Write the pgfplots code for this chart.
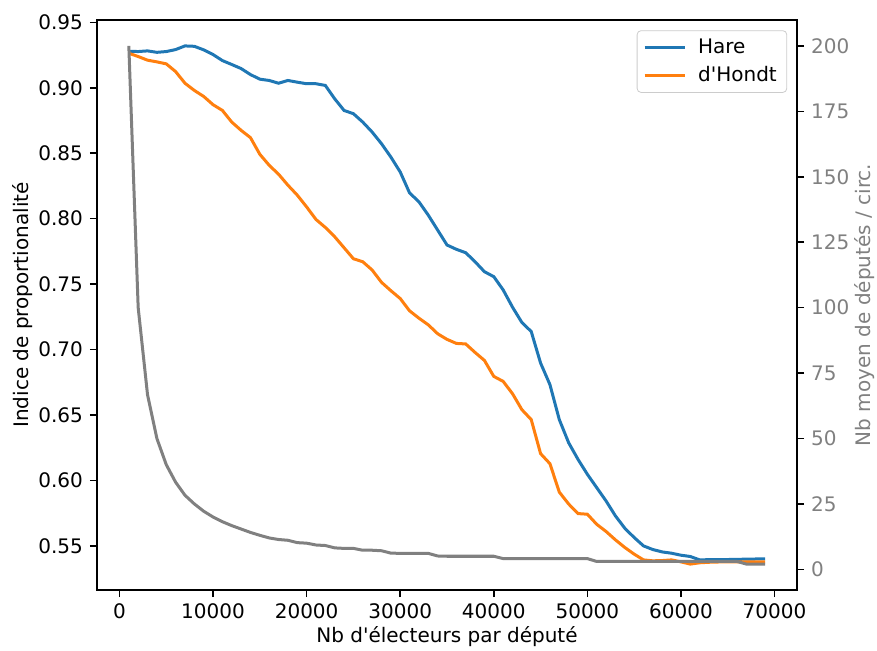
\documentclass[border=0pt]{standalone}
\usepackage{fontspec}
\setmainfont{DejaVu Sans}
\usepackage{pgfplots}
\usepackage{pgfplotstable}
\pgfplotsset{compat=1.18}
\definecolor{mplblue}{HTML}{1F77B4}
\definecolor{mplorange}{HTML}{FF7F0E}
\definecolor{mplgray}{HTML}{808080}

% x = electeurs par depute, hare / hondt = indice, circ = nb moyen de deputes
\pgfplotstableread{
x     hare   hondt  circ
1000  0.9279 0.9264 200
2000  0.9277 0.9239 100
3000  0.9282 0.9211 66.7
4000  0.9271 0.9198 50
5000  0.9277 0.9183 40
6000  0.9292 0.9124 33.3
7000  0.9320 0.9035 28.3
8000  0.9317 0.8980 25
9000  0.9290 0.8934 22.2
10000 0.9254 0.8871 20
11000 0.9208 0.8827 18.2
12000 0.9178 0.8738 16.7
13000 0.9147 0.8675 15.4
14000 0.9101 0.8619 14.1
15000 0.9066 0.8492 13
16000 0.9056 0.8408 12
17000 0.9035 0.8340 11.4
18000 0.9056 0.8256 11.1
19000 0.9043 0.8180 10.2
20000 0.9031 0.8090 10
21000 0.9031 0.7994 9.3
22000 0.9018 0.7933 9.1
23000 0.8916 0.7862 8.2
24000 0.8827 0.7778 8
25000 0.8802 0.7694 8
26000 0.8738 0.7671 7.3
27000 0.8662 0.7608 7.3
28000 0.8573 0.7514 7.1
29000 0.8471 0.7450 6.2
30000 0.8357 0.7390 6.1
31000 0.8197 0.7296 6.1
32000 0.8129 0.7240 6.1
33000 0.8027 0.7189 6.1
34000 0.7913 0.7121 5.1
35000 0.7799 0.7078 5
36000 0.7766 0.7047 5
37000 0.7740 0.7043 5
38000 0.7671 0.6978 5
39000 0.7595 0.6917 5
40000 0.7557 0.6795 5
41000 0.7456 0.6757 4.1
42000 0.7324 0.6663 4.1
43000 0.7207 0.6541 4.1
44000 0.7138 0.6465 4.1
45000 0.6897 0.6205 4.1
46000 0.6732 0.6128 4.1
47000 0.6465 0.5911 4.1
48000 0.6288 0.5820 4.1
49000 0.6161 0.5747 4.1
50000 0.6047 0.5742 4.1
51000 0.5945 0.5665 3
52000 0.5843 0.5610 3
53000 0.5729 0.5546 3
54000 0.5635 0.5488 3
55000 0.5564 0.5437 3
56000 0.5500 0.5393 3
57000 0.5472 0.5386 3
58000 0.5454 0.5388 3
59000 0.5444 0.5393 3
60000 0.5429 0.5378 3
61000 0.5419 0.5361 3
62000 0.5393 0.5371 3
63000 0.5395 0.5375 3
64000 0.5396 0.5377 3
65000 0.5396 0.5378 3
66000 0.5397 0.5378 3
67000 0.5399 0.5378 2
68000 0.5400 0.5378 2
69000 0.5400 0.5378 2
}\data

\begin{document}
\begin{tikzpicture}
\pgfplotsset{
  base/.style={
    scale only axis, width=350pt, height=285pt,
    at={(0,0)}, anchor=south west,
    xmin=-2400, xmax=72400,
    axis line style={line width=0.8pt},
    tick style={line width=0.8pt, black},
    major tick length=3.5pt,
    tick align=outside,
    /pgf/number format/assume math mode=true,
    tick label style={font=\normalsize},
  }
}
\begin{axis}[base,
  ymin=0.5163, ymax=0.9518,
  xtick={0,10000,20000,30000,40000,50000,60000,70000},
  scaled x ticks=false, scaled y ticks=false,
  xticklabel style={/pgf/number format/1000 sep={}},
  ytick={0.55,0.6,0.65,0.7,0.75,0.8,0.85,0.9,0.95},
  yticklabel style={/pgf/number format/.cd, fixed, fixed zerofill, precision=2},
  xtick pos=bottom, ytick pos=left,
  xlabel={Nb d\textquotesingle électeurs par député},
  ylabel={Indice de proportionalité},
  every axis x label/.style={at={(axis description cs:0.5,-0.0825)}, anchor=center},
  every axis y label/.style={at={(axis description cs:-0.107,0.5)}, rotate=90, anchor=center},
  legend cell align=left,
  legend image code/.code={\draw[#1] (0pt,0pt) -- (20pt,0pt);},
  legend style={at={(axis description cs:0.986,0.982)}, anchor=north east,
    draw=black!20, rounded corners=2pt, fill=white, fill opacity=0.8, text opacity=1,
    font=\normalsize, inner xsep=3pt, inner ysep=2pt, row sep=1pt,
    /tikz/every odd column/.append style={column sep=4pt}},
]
\addplot[mplblue, line width=1.5pt] table[x=x, y=hare]{\data};
\addlegendentry{Hare}
\addplot[mplorange, line width=1.5pt] table[x=x, y=hondt]{\data};
\addlegendentry{d\textquotesingle Hondt}
\end{axis}
\begin{axis}[base,
  ymin=-7.9, ymax=209.9,
  axis x line=none, axis y line*=right,
  ytick={0,25,50,75,100,125,150,175,200},
  ytick pos=right,
  yticklabel style={text=mplgray},
  ylabel={Nb moyen de députés / circ.},
  every axis y label/.style={at={(axis description cs:1.097,0.5)}, rotate=90, anchor=center, text=mplgray},
]
\addplot[mplgray, line width=1.5pt] table[x=x, y=circ]{\data};
\end{axis}
\pgfresetboundingbox
\useasboundingbox (-48.5pt,-30pt) rectangle (390pt,295pt);
\end{tikzpicture}
\end{document}
